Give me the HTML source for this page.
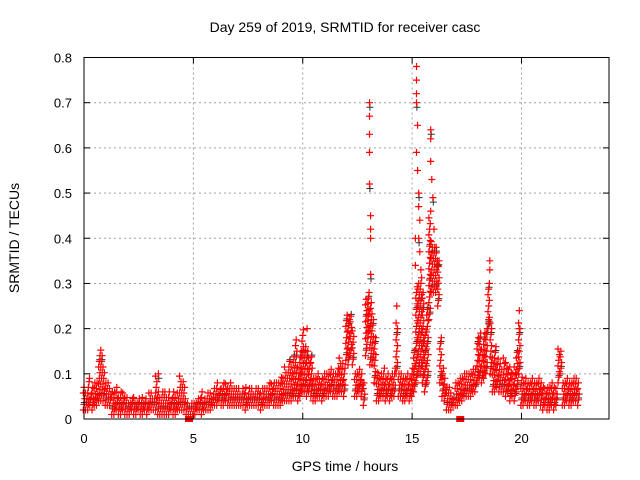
<!DOCTYPE html>
<html><head><meta charset="utf-8"><style>
body{margin:0;background:#fff}
svg{display:block;font-family:"Liberation Sans",sans-serif}
</style></head><body>
<svg id="chart" width="640" height="480" viewBox="0 0 640 480" xmlns="http://www.w3.org/2000/svg">
<text x="345" y="32" font-size="14" text-anchor="middle">Day 259 of 2019, SRMTID for receiver casc</text>
<text x="345" y="471" font-size="14" text-anchor="middle">GPS time / hours</text>
<text x="0" y="0" font-size="14" text-anchor="middle" transform="translate(19,238) rotate(-90)">SRMTID / TECUs</text>
<g id="grid"></g>
<g id="ticks"></g>
<g id="marks-black"></g>
<g id="marks-red"></g>
<rect x="84" y="57.5" width="525" height="361.5" fill="none" stroke="#000" stroke-width="1"/>
</svg>
<script>
const xTicks=[0,5,10,15,20];
const yTicks=[0,0.1,0.2,0.3,0.4,0.5,0.6,0.7,0.8];
const yTickLabels=["0","0.1","0.2","0.3","0.4","0.5","0.6","0.7","0.8"];
const bandStart=0, bandStep=0.1;
const bandLow=[2,2,2,3,2,3,3,4,4,4,3,3,3,1,1,2,1,1,2,1,1,1,2,1,1,2,1,1,2,1,2,2,2,2,1,1,1,1,1,1,2,1,1,2,2,2,2,1,1,1,1,1,2,2,1,2,2,2,2,3,3,3,4,3,3,4,3,3,3,3,3,3,3,3,2,3,3,3,3,3,3,2,3,3,3,3,4,3,3,3,3,4,4,4,4,4,5,5,4,5,6,6,5,6,5,4,4,5,5,4,5,5,5,6,5,5,5,6,6,5,13,12,14,12,5,5,6,5,3,14,18,12,12,8,4,4,5,5,4,5,4,5,5,10,5,5,4,4,5,4,5,6,8,10,10,8,6,8,22,28,28,28,25,8,5,4,2,2,2,3,3,3,4,4,5,5,5,5,6,6,8,9,8,9,10,20,10,6,6,7,6,6,6,5,6,4,5,4,6,10,3,3,4,3,3,4,3,3,4,3,2,3,2,2,3,2,3,8,10,3,3,4,3,3,4,4,3];
const bandHigh=[7,6,9,6,7,9,8,14,16,12,9,8,7,6,6,7,5,6,6,5,5,4,5,5,4,5,4,5,5,4,6,6,5,10,6,5,6,6,5,6,5,6,5,6,10,9,8,4,3,4,4,4,5,5,6,5,5,6,6,6,7,8,7,7,9,8,7,8,7,7,7,7,6,7,7,6,7,7,6,7,7,6,7,7,7,8,8,9,8,9,10,10,12,11,13,12,14,18,12,15,20,16,15,14,14,10,9,10,9,10,10,11,10,12,11,11,12,14,13,12,24,22,23,20,11,10,12,11,8,27,28,26,24,18,11,10,11,12,10,11,10,10,12,22,10,11,9,10,10,9,12,15,30,30,32,28,20,25,45,40,38,37,35,18,12,10,8,7,6,5,8,8,9,10,10,11,11,10,12,12,18,20,16,19,20,30,22,14,16,14,13,12,14,13,12,12,11,12,15,22,10,9,10,9,8,9,9,8,9,8,8,7,8,7,8,8,7,16,15,9,8,9,9,8,9,9,8];
const spikeHours=[13.05,13.05,13.05,13.05,13.05,13.1,13.1,13.1,13.1,15.2,15.2,15.2,15.2,15.25,15.2,15.25,15.3,15.3,15.35,15.15,15.3,15.35,15.4,15.15,15.85,15.85,15.85,15.9,15.95,15.85,16.0,16.1,16.15,18.55,18.55,18.5,18.5,19.9,19.9,0.25,3.4,10.2,14.3];
const spikeValues=[0.70,0.67,0.63,0.59,0.52,0.45,0.42,0.40,0.32,0.78,0.75,0.72,0.70,0.65,0.59,0.55,0.50,0.47,0.44,0.40,0.40,0.37,0.33,0.34,0.64,0.62,0.57,0.53,0.49,0.46,0.42,0.38,0.35,0.35,0.33,0.25,0.22,0.24,0.20,0.09,0.10,0.20,0.25];
const zeroHours=[4.8,17.2];

const X0=84,X1=609,Y0=419,Y1=57.5,XMAX=24,YMAX=0.8;
const xs=h=>X0+h/XMAX*(X1-X0);
const ys=v=>Y0-v/YMAX*(Y0-Y1);
const NS="http://www.w3.org/2000/svg";
const grid=document.getElementById('grid'),ticks=document.getElementById('ticks');
function mk(tag,attrs,parent){const e=document.createElementNS(NS,tag);for(const k in attrs)e.setAttribute(k,attrs[k]);parent.appendChild(e);return e;}
xTicks.forEach((t,i)=>{
  const x=xs(t);
  if(t>0){const g=mk('line',{x1:x,x2:x,y1:Y1,y2:Y0,stroke:'#a0a0a0','stroke-dasharray':'2,3'},grid);
  
  }
  const a=mk('line',{x1:x,x2:x,y1:Y0,y2:Y0-6,stroke:'#000'},ticks);
  
  
  const b=mk('line',{x1:x,x2:x,y1:Y1,y2:Y1+6,stroke:'#000'},ticks);
  
  
  const l=mk('text',{x:x,y:443,'font-size':13,'text-anchor':'middle'},ticks);l.textContent=String(t);
  
  
});
yTicks.forEach((v,i)=>{
  const y=ys(v);
  if(v>0&&v<YMAX){const g=mk('line',{x1:X0,x2:X1,y1:y,y2:y,stroke:'#a0a0a0','stroke-dasharray':'2,3'},grid);
  
  }
  const a=mk('line',{x1:X0,x2:X0+6,y1:y,y2:y,stroke:'#000'},ticks);
  
  
  const b=mk('line',{x1:X1,x2:X1-6,y1:y,y2:y,stroke:'#000'},ticks);
  
  
  const l=mk('text',{x:72,y:y+5,'font-size':13,'text-anchor':'end'},ticks);l.textContent=yTickLabels[i];
  
  
});
let red='',black='';
function plus(h,v){const x=xs(h),y=ys(v);return `M${(x-3.5).toFixed(1)} ${y.toFixed(1)}h7M${x.toFixed(1)} ${(y-3.5).toFixed(1)}v7`;}
bandLow.forEach((lo,i)=>{
  const hi=bandHigh[i],t=bandStart+i*bandStep;
  let k=0;
  for(let v=lo;v<=hi+0.001;v+=1.25,k++){
    const dx=(k%3-1)*0.033;
    red+=plus(t+dx,v/100);
    if(k%6==1) black+=plus(t+dx+0.02,v/100+0.004);
  }
});
spikeHours.forEach((h,i)=>{red+=plus(h,spikeValues[i]);if(i%4==0)black+=plus(h+0.02,spikeValues[i]-0.01);});
const pb=mk('path',{d:black,stroke:'#303030','stroke-width':1,fill:'none'},document.getElementById('marks-black'));


const pr=mk('path',{d:red,stroke:'#ff0000','stroke-width':1.2,fill:'none'},document.getElementById('marks-red'));


zeroHours.forEach(h=>{
  const r=mk('rect',{x:xs(h)-4,y:Y0-3,width:8,height:6,fill:'#ff0000'},document.getElementById('marks-red'));
  
  
});
</script>
</body></html>
